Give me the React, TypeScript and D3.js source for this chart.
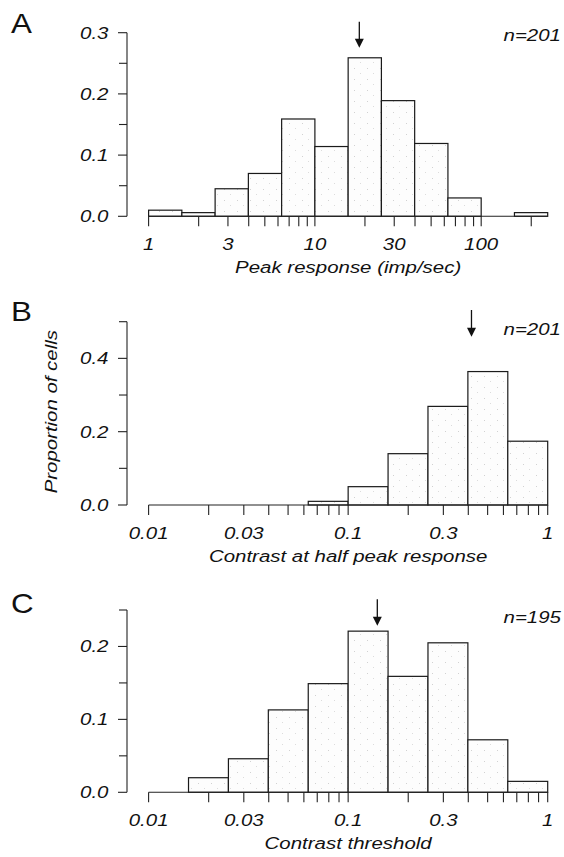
import React from 'react';
import * as d3 from 'd3';

// ---- data ----
const edgesA = [1, 1.585, 2.512, 3.981, 6.31, 10, 15.85, 25.12, 39.81, 63.1, 100, 158.5, 251.2];
const valuesA = [0.010, 0.006, 0.045, 0.070, 0.159, 0.114, 0.259, 0.189, 0.119, 0.030, 0, 0.006];
const edgesBC = [0.01, 0.01585, 0.02512, 0.03981, 0.0631, 0.1, 0.1585, 0.2512, 0.3981, 0.631, 1];
const valuesB = [0, 0, 0, 0, 0.010, 0.050, 0.140, 0.269, 0.364, 0.174];
const valuesC = [0, 0.020, 0.046, 0.113, 0.149, 0.221, 0.159, 0.205, 0.072, 0.015];

const xTicksA = [1, 2, 3, 4, 5, 6, 7, 8, 9, 10, 20, 30, 40, 50, 60, 70, 80, 90, 100, 200];
const xLabelsA = [1, 3, 10, 30, 100];
const xTicksBC = [0.01, 0.02, 0.03, 0.04, 0.05, 0.06, 0.07, 0.08, 0.09, 0.1, 0.2, 0.3, 0.4, 0.5, 0.6, 0.7, 0.8, 0.9, 1];
const xLabelsBC = [0.01, 0.03, 0.1, 0.3, 1];

const yMajorA = [0, 0.1, 0.2, 0.3];
const yMinorA = [0.05, 0.15, 0.25];
const yMajorB = [0, 0.2, 0.4];
const yMinorB = [0.1, 0.3, 0.5];
const yMajorC = [0, 0.1, 0.2];
const yMinorC = [0.05, 0.15, 0.25];

const medians = [18.5, 0.415, 0.14];
const nLabels = ['n=201', 'n=201', 'n=195'];
const letters = ['A', 'B', 'C'];
const xTitles = ['Peak response (imp/sec)', 'Contrast at half peak response', 'Contrast threshold'];
const yTitle = 'Proportion of cells';

// ---- layout ----
const X0 = 148.6, X1 = 547.7, YAX = 127;
const FONT = '"Liberation Sans", Arial, Helvetica, sans-serif';
const SX = 1.24;

type Panel = {
  edges: number[]; values: number[]; xTicks: number[]; xLabels: number[];
  yMajor: number[]; yMinor: number[]; yMax: number; top: number; bottom: number;
  median: number; n: string; letter: string; title: string;
  nY: number; letterY: number; arrowTop: number; arrowTip: number;
};

const panels: Panel[] = [
  { edges: edgesA, values: valuesA, xTicks: xTicksA, xLabels: xLabelsA, yMajor: yMajorA, yMinor: yMinorA,
    yMax: 0.3, top: 32.7, bottom: 216.3, median: medians[0], n: nLabels[0], letter: letters[0], title: xTitles[0],
    nY: 40.5, letterY: 33.3, arrowTop: 21.7, arrowTip: 47.7 },
  { edges: edgesBC, values: valuesB, xTicks: xTicksBC, xLabels: xLabelsBC, yMajor: yMajorB, yMinor: yMinorB,
    yMax: 0.5, top: 321.7, bottom: 505, median: medians[1], n: nLabels[1], letter: letters[1], title: xTitles[1],
    nY: 335, letterY: 320.5, arrowTop: 310, arrowTip: 336.7 },
  { edges: edgesBC, values: valuesC, xTicks: xTicksBC, xLabels: xLabelsBC, yMajor: yMajorC, yMinor: yMinorC,
    yMax: 0.25, top: 610, bottom: 792.3, median: medians[2], n: nLabels[2], letter: letters[2], title: xTitles[2],
    nY: 623, letterY: 613.3, arrowTop: 599.3, arrowTip: 625.7 },
];

function T({ x, y, children, anchor = 'start', size = 16.5, italic = true, sx = SX, rotate = 0 }: any) {
  return (
    <text
      transform={`translate(${x},${y}) rotate(${rotate}) scale(${sx},1)`}
      textAnchor={anchor}
      fontFamily={FONT}
      fontSize={size}
      fontStyle={italic ? 'italic' : 'normal'}
      fill="#111"
    >
      {children}
    </text>
  );
}

function PanelView({ p }: { p: Panel }) {
  const x = d3.scaleLog().domain([p.edges[0], p.edges[p.edges.length - 1]]).range([X0, X1]);
  const y = d3.scaleLinear().domain([0, p.yMax]).range([p.bottom, p.top]);
  const fmtY = d3.format('.1f');
  const ax = x(p.median);
  return (
    <g>
      {/* bars */}
      {p.values.map((v, i) =>
        v > 0 ? (
          <rect key={i} x={x(p.edges[i])} y={y(v)} width={x(p.edges[i + 1]) - x(p.edges[i])}
            height={y(0) - y(v)} fill="url(#stip)" stroke="#1a1a1a" strokeWidth={1.2} />
        ) : null
      )}
      {/* y axis */}
      <line x1={YAX} x2={YAX} y1={y(p.yMax)} y2={y(0)} stroke="#222" strokeWidth={1.1} />
      {p.yMajor.map((t) => (
        <g key={'M' + t}>
          <line x1={YAX - 9} x2={YAX} y1={y(t)} y2={y(t)} stroke="#222" strokeWidth={1.1} />
          <T x={108.5} y={y(t) + 6} anchor="end">{fmtY(t)}</T>
        </g>
      ))}
      {p.yMinor.map((t) => (
        <line key={'m' + t} x1={YAX - 8} x2={YAX} y1={y(t)} y2={y(t)} stroke="#222" strokeWidth={1.1} />
      ))}
      {/* x axis */}
      <line x1={X0} x2={X1} y1={y(0)} y2={y(0)} stroke="#222" strokeWidth={1.1} />
      {p.xTicks.map((t) => (
        <line key={'x' + t} x1={x(t)} x2={x(t)} y1={y(0)} y2={y(0) + 10} stroke="#222" strokeWidth={1.1} />
      ))}
      {p.xLabels.map((t) => (
        <T key={'xl' + t} x={x(t)} y={y(0) + 34} anchor="middle">{String(t)}</T>
      ))}
      <T x={(X0 + X1) / 2} y={y(0) + 57} anchor="middle">{p.title}</T>
      {/* arrow */}
      <line x1={ax} x2={ax} y1={p.arrowTop} y2={p.arrowTip - 7} stroke="#111" strokeWidth={1.3} />
      <polygon points={`${ax - 4.5},${p.arrowTip - 9} ${ax + 4.5},${p.arrowTip - 9} ${ax},${p.arrowTip}`} fill="#111" />
      {/* n label */}
      <T x={561} y={p.nY} anchor="end">{p.n}</T>
      {/* panel letter */}
      <T x={11} y={p.letterY} size={28} italic={false} sx={1.12}>{p.letter}</T>
    </g>
  );
}

export default function App() {
  return (
    <svg width={564} height={857} viewBox="0 0 564 857"
      style={{ position: 'absolute', left: 0, top: 0, background: '#fff' }}>
      <defs>
        <pattern id="stip" width="13" height="11" patternUnits="userSpaceOnUse">
          <rect width="13" height="11" fill="#fdfdfd" />
          <rect x="3" y="2" width="1" height="1" fill="#d2d2d2" />
          <rect x="9" y="7" width="1" height="1" fill="#dcdcdc" />
        </pattern>
      </defs>
      <rect width={564} height={857} fill="#fff" />
      {panels.map((p, i) => <PanelView key={i} p={p} />)}
      <T x={57} y={411.7} anchor="middle" rotate={-90} size={17} sx={1.2}>{yTitle}</T>
    </svg>
  );
}
